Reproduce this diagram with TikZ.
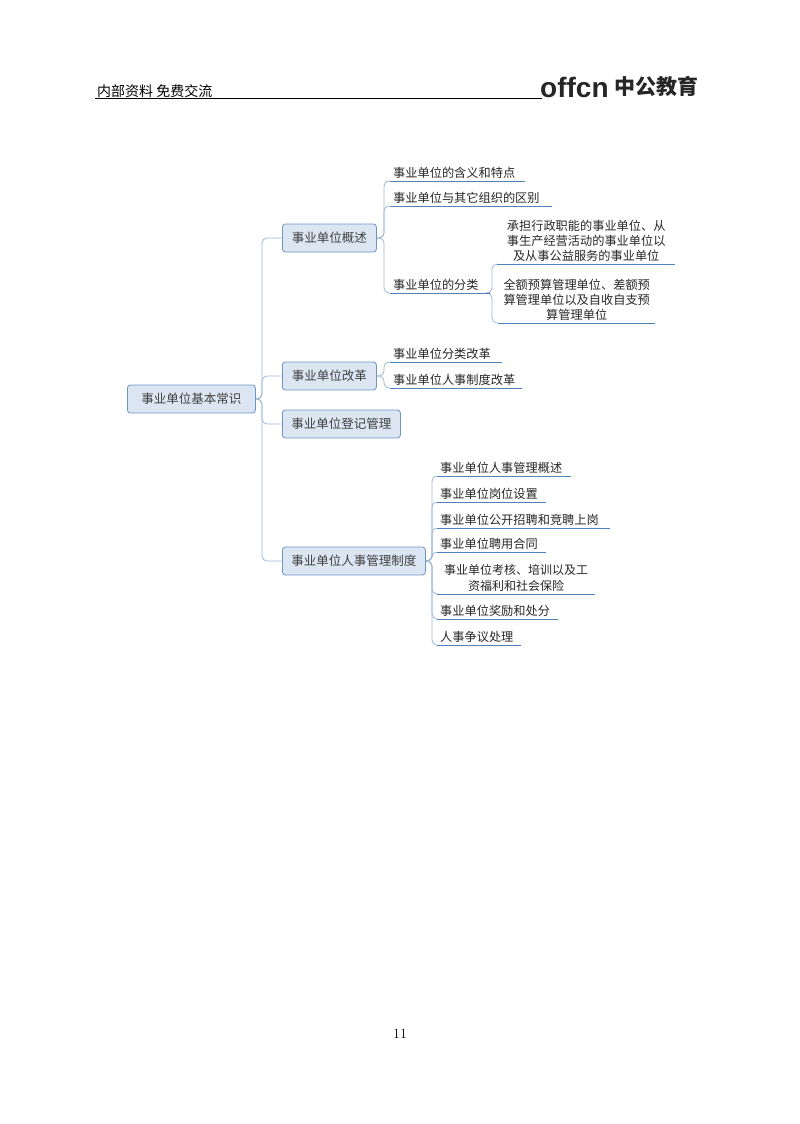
\documentclass[tikz,border=0pt]{standalone}
\usepackage{fontspec}
\newfontfamily\cjk{Noto Sans CJK SC}
\newfontfamily\logof{Liberation Sans}
\definecolor{boxfill}{HTML}{DCE6F2}
\definecolor{boxline}{HTML}{6F94C4}
\definecolor{conn}{HTML}{9DB5D6}
\definecolor{uline}{HTML}{4F81BD}
\begin{document}
\begin{tikzpicture}[x=1pt,y=-1pt,
  box/.style={draw=boxline,fill=boxfill,rounded corners=3pt,line width=0.8pt,font=\cjk\fontsize{12.5}{14}\selectfont,text=black!75,anchor=west,minimum height=28pt,inner xsep=6pt},
  leaf/.style={anchor=south west,inner xsep=3pt,inner ysep=2pt,font=\cjk\fontsize{12.2}{15}\selectfont,text=black!85},
  ul/.style={draw=uline,line width=0.9pt},
  cn/.style={draw=conn,line width=0.8pt,rounded corners=5pt}]
\useasboundingbox (0,0) rectangle (800,1124);
% header
\node[anchor=base west,font=\cjk\fontsize{14}{16}\selectfont,inner sep=0] (hd) at (97,96) {内部资料\ 免费交流};
\draw[line width=0.8pt] (95,98) -- (542,98);
\node[anchor=base west,font=\logof\bfseries\fontsize{28}{30}\selectfont,inner sep=0,text=black!85] (logo) at (540,97) {offcn};
\node[anchor=base west,font=\cjk\bfseries\fontsize{21}{24}\selectfont,inner sep=0,text=black!85] (logo2) at (614,95) {中公教育};
% page number
\node[font=\fontsize{14}{16}\selectfont] (pg) at (400,1034) {11};
% root and boxes
\node[box,minimum width=128pt] (root) at (127,399) {事业单位基本常识};
\node[box,minimum width=94pt] (b1) at (282,238) {事业单位概述};
\node[box,minimum width=94pt] (b2) at (282,376) {事业单位改革};
\node[box,minimum width=118pt] (b3) at (282,424) {事业单位登记管理};
\node[box,minimum width=143pt] (b4) at (282,561) {事业单位人事管理制度};
\foreach \b in {b1,b2,b3,b4}{\draw[cn] (root.east) -- (262,399) |- (\b.west);}
% b1 leaves
\node[leaf,text width=129pt] (l11) at (390,181) {事业单位的含义和特点};
\node[leaf,text width=156pt] (l12) at (390,206) {事业单位与其它组织的区别};
\node[leaf,text width=94pt] (l13) at (390,293) {事业单位的分类};
\node[leaf,text width=172pt,align=center] (l131) at (497,264) {承担行政职能的事业单位、从\\事生产经营活动的事业单位以\\及从事公益服务的事业单位};
\node[leaf,text width=151pt,align=center] (l132) at (498,323) {全额预算管理单位、差额预\\算管理单位以及自收自支预\\算管理单位};
\foreach \l in {l11,l12,l13}{\draw[cn] (b1.east) -- (384,238) |- (\l.south west);}
\foreach \l in {l131,l132}{\draw[cn] (l13.south east) -- (492,293) |- (\l.south west);}
% b2 leaves
\node[leaf,text width=106pt] (l21) at (390,362) {事业单位分类改革};
\node[leaf,text width=126pt] (l22) at (390,388) {事业单位人事制度改革};
\foreach \l in {l21,l22}{\draw[cn] (b2.east) -- (384,376) |- (\l.south west);}
% b4 leaves
\node[leaf,text width=128pt] (l41) at (437,476) {事业单位人事管理概述};
\node[leaf,text width=103pt] (l42) at (437,502) {事业单位岗位设置};
\node[leaf,text width=167pt] (l43) at (437,528) {事业单位公开招聘和竞聘上岗};
\node[leaf,text width=103pt] (l44) at (437,552) {事业单位聘用合同};
\node[leaf,text width=152pt,align=center,font=\cjk\fontsize{12}{16}\selectfont] (l45) at (437,594) {事业单位考核、培训以及工\\资福利和社会保险};
\node[leaf,text width=115pt] (l46) at (437,619) {事业单位奖励和处分};
\node[leaf,text width=78pt] (l47) at (437,645) {人事争议处理};
\foreach \l in {l41,l42,l43,l44,l45,l46,l47}{\draw[cn] (b4.east) -- (432,561) |- (\l.south west);}
\foreach \l in {l11,l12,l13,l131,l132,l21,l22,l41,l42,l43,l44,l45,l46,l47}{\draw[ul] (\l.south west) -- (\l.south east);}
\end{tikzpicture}
\end{document}
